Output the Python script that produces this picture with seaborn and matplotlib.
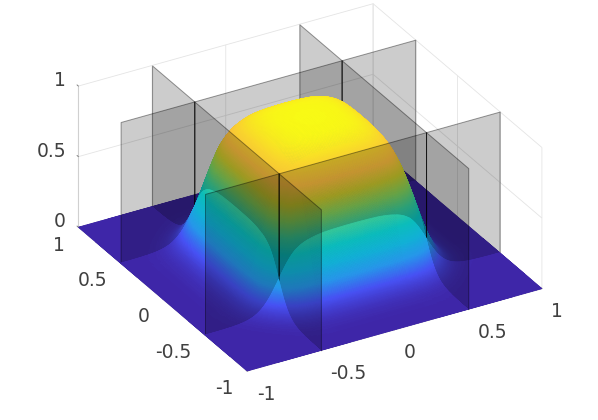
import numpy as np
import seaborn as sns
import matplotlib
matplotlib.use("Agg")
import matplotlib.pyplot as plt
from mpl_toolkits.mplot3d.art3d import Poly3DCollection

# Half profile, |coordinate| = 0 ... 1 in steps of 0.0125
half_profile = [
    1.000, .999, .999, .999, .999, .998, .998, .997, .997, .996,
    .995, .994, .993, .992, .990, .988, .985, .982, .979, .975,
    .970, .965, .959, .952, .945, .936, .927, .915, .902, .886,
    .868, .849, .823, .793, .760, .723, .683, .640, .595, .548,
    .500, .452, .405, .360, .317, .277, .240, .207, .177, .151,
    .128, .108, .090, .076, .063, .053, .044, .037, .030, .025,
    .021, .017, .014, .012, .010, .008, .007, .006, .005, .004,
    .003, .003, .002, .002, .001, .001, .001, .001, .001, .001,
    .000,
]
slice_positions = [-0.5, 0.5]
ticks_xy = [-1, -0.5, 0, 0.5, 1]
ticks_z = [0, 0.5, 1]
tick_labels_xy = ["-1", "-0.5", "0", "0.5", "1"]
tick_labels_z = ["0", "0.5", "1"]
parula_stops = [
    (0.2422, 0.1504, 0.6603), (0.2810, 0.3228, 0.9579), (0.1540, 0.5902, 0.9218),
    (0.0689, 0.6948, 0.8394), (0.0433, 0.7411, 0.7394), (0.2161, 0.7843, 0.5923),
    (0.5044, 0.7993, 0.3480), (0.7738, 0.7598, 0.1646), (0.9728, 0.7298, 0.2394),
    (0.9786, 0.8386, 0.1766), (0.9769, 0.9839, 0.0805),
]

sns.set_theme(style="white")
plt.rcParams["font.family"] = ["DejaVu Sans"]
parula = sns.blend_palette(parula_stops, n_colors=256, as_cmap=True)

# the read profile, and a finer drawing mesh on the steep flanks (interpolated shading)
read_abs = np.linspace(0, 1, len(half_profile))
mesh_abs = np.unique(np.round(np.concatenate([
    read_abs, np.arange(0.3, 0.8001, 0.003125)]), 6))
mesh_profile = np.interp(mesh_abs, read_abs, half_profile)
coords = np.concatenate([-mesh_abs[:0:-1], mesh_abs])
profile = np.concatenate([mesh_profile[:0:-1], mesh_profile])
X, Y = np.meshgrid(coords, coords, indexing="ij")
Z = np.outer(profile, profile)

fig = plt.figure(figsize=(5.98, 4.20), dpi=100)
W, H = 598.0, 420.0
side = 492.0
cx, cy = 303.5, 226.0
ax = fig.add_axes([(cx - side / 2) / W, (cy - side / 2) / H, side / W, side / H],
                  projection="3d", proj_type="ortho", computed_zorder=False)
ax.view_init(elev=29.2, azim=-119.8)
ax.set_box_aspect((344.5, 344.5, 164))
ax.patch.set_alpha(0)
fig.patch.set_facecolor("white")

cuts = [0, int(np.searchsorted(coords, slice_positions[0] - 1e-6)),
        int(np.searchsorted(coords, slice_positions[1] - 1e-6)), coords.size - 1]
bounds = [-1.0] + slice_positions + [1.0]

order = 10
for i in (2, 1, 0):
    for j in (2, 1, 0):
        # floor colour under the region, so no white shows between the small cells
        ax.add_collection3d(Poly3DCollection(
            [[(bounds[i], bounds[j], 0), (bounds[i + 1], bounds[j], 0),
              (bounds[i + 1], bounds[j + 1], 0), (bounds[i], bounds[j + 1], 0)]],
            facecolors=parula(0.0), edgecolors="none", zorder=order))
        order += 1
        xs = slice(cuts[i], cuts[i + 1] + 1)
        ys = slice(cuts[j], cuts[j + 1] + 1)
        zz = Z[xs, ys]
        cell = (zz[:-1, :-1] + zz[1:, :-1] + zz[:-1, 1:] + zz[1:, 1:]) / 4
        cell = np.pad(cell, ((0, 1), (0, 1)), mode="edge")
        ax.plot_surface(X[xs, ys], Y[xs, ys], zz, rstride=1, cstride=1,
                        facecolors=parula(cell), shade=False, linewidth=0.5,
                        antialiased=True, zorder=order)
        order += 1
        walls = []
        if i > 0:
            a = bounds[i]
            walls.append([(a, bounds[j], 0), (a, bounds[j + 1], 0),
                          (a, bounds[j + 1], 1), (a, bounds[j], 1)])
        if j > 0:
            b = bounds[j]
            walls.append([(bounds[i], b, 0), (bounds[i + 1], b, 0),
                          (bounds[i + 1], b, 1), (bounds[i], b, 1)])
        for w in walls:
            ax.add_collection3d(Poly3DCollection([w], facecolors=(0, 0, 0, 0.2),
                                                  edgecolors=(0, 0, 0, 0.4),
                                                  linewidths=0.7, zorder=order))
            order += 1

ax.set_xlim(-1, 1)
ax.set_ylim(-1, 1)
ax.set_zlim(0, 1)
ax.set_xticks(ticks_xy, tick_labels_xy)
ax.set_yticks(ticks_xy, tick_labels_xy)
ax.set_zticks(ticks_z, tick_labels_z)
ax.tick_params(labelsize=13.5, labelcolor="#404040", color="#808080")
ax.zaxis._get_tickdir = lambda position: 1
for axis in (ax.xaxis, ax.yaxis, ax.zaxis):
    axis.set_pane_color((1, 1, 1, 0))
    axis.pane.set_edgecolor("#d8d8d8")
    axis.line.set_color("#d0d0d0")
    axis.line.set_linewidth(0.8)
    axis._axinfo["grid"]["color"] = "#e4e4e4"
    axis._axinfo["grid"]["linewidth"] = 0.6
    axis._axinfo["tick"]["inward_factor"] = 0.0
    axis._axinfo["tick"]["outward_factor"] = 0.1
    axis._axinfo["tick"]["linewidth"] = {True: 0.7, False: 0.5}
ax.grid(True)

px = 0.18 / side  # one pixel in the 2D coordinates of a 3D axes


def nudge(labels, ha, dx, dy):
    for label in labels:
        label.set_ha(ha)
        label.set_va("center")
        place = label.set_position
        label.set_position = (lambda xy, place=place:
                              place((xy[0] + dx * px, xy[1] + dy * px)))


nudge(ax.get_xticklabels(), "left", -1, -5.5)
nudge(ax.get_yticklabels(), "right", 5, -4)
nudge(ax.get_zticklabels(), "right", 17, 1.5)

fig.savefig("out.png", dpi=100)
